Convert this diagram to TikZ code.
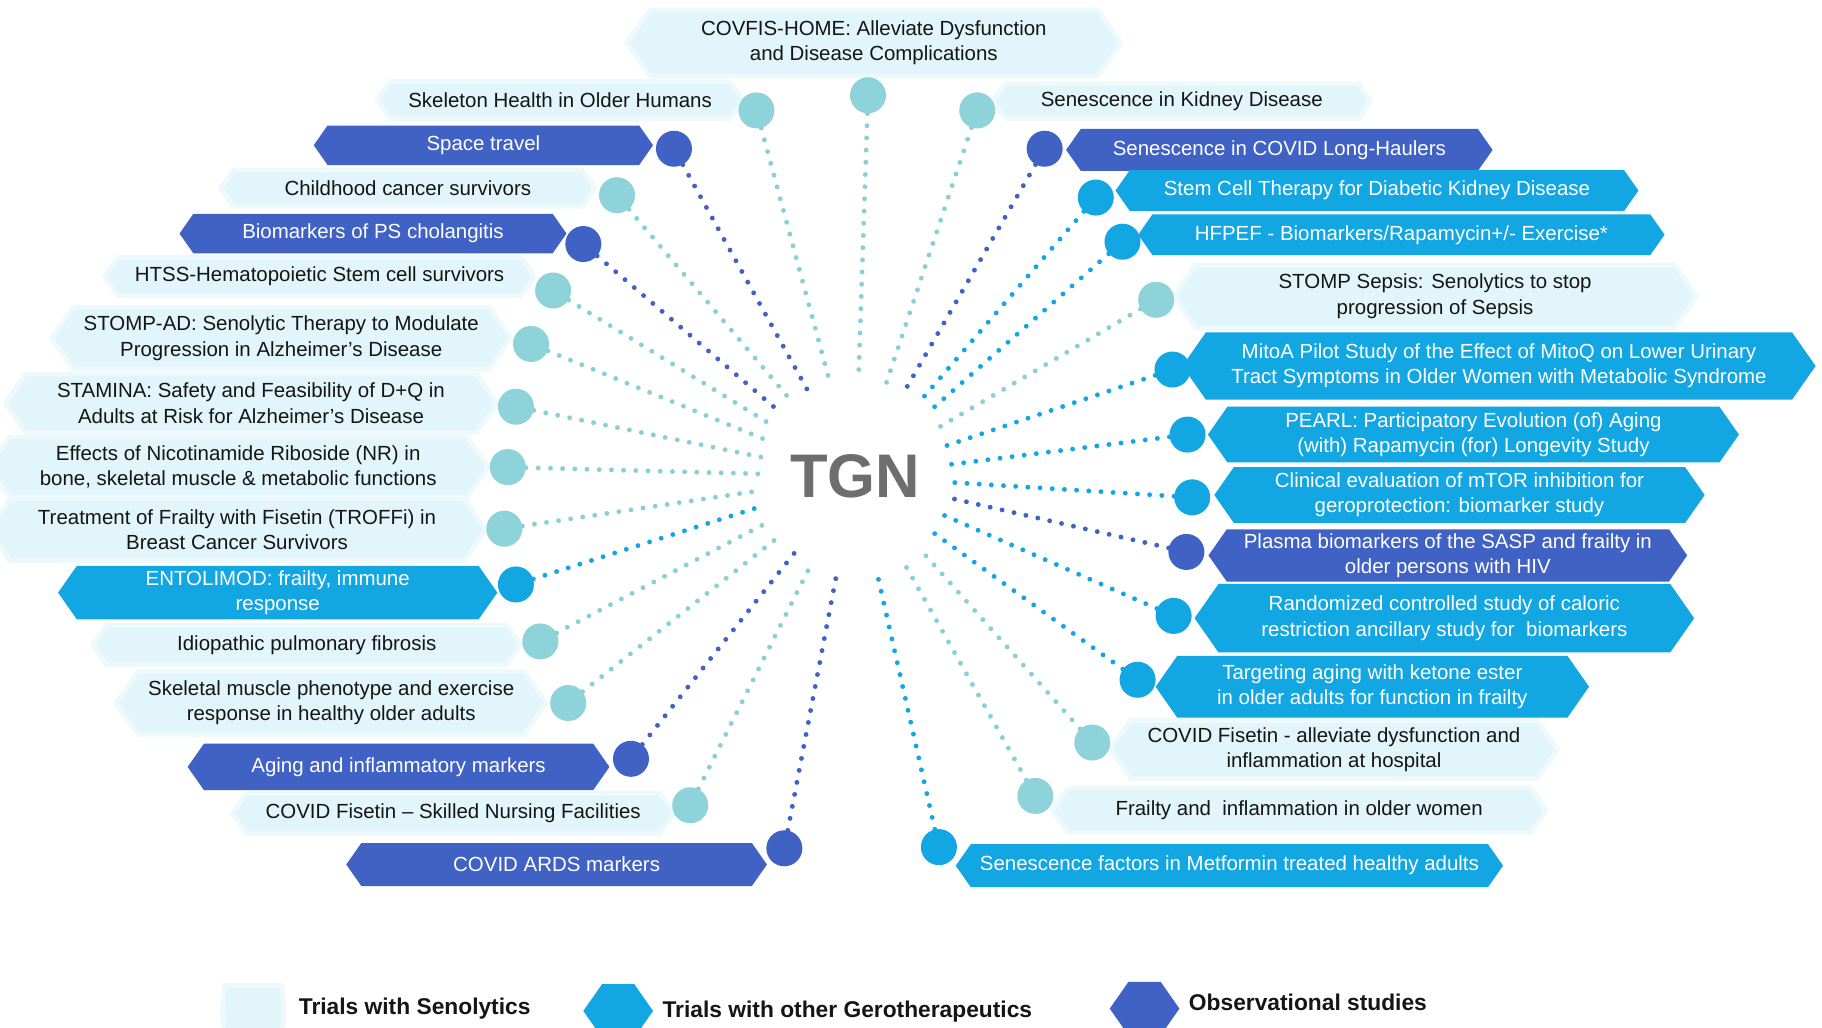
\documentclass[tikz,border=0pt]{standalone}
\usepackage{fontspec}
\setmainfont{Liberation Sans}
\usetikzlibrary{shapes.symbols}
\definecolor{cSenFill}{HTML}{E2F5FA}
\definecolor{cSenEdge}{HTML}{EDF9FC}
\definecolor{cSenDot}{HTML}{8ED2DA}
\definecolor{cSenLine}{HTML}{88D0D6}
\definecolor{cGer}{HTML}{12A6E3}
\definecolor{cObs}{HTML}{3F62C4}
\definecolor{cTgn}{HTML}{6E6E6E}
\definecolor{cTxt}{HTML}{151515}
\newcommand{\lblfont}{\fontsize{17.6}{21.8}\selectfont}
\newcommand{\legfont}{\fontsize{19.6}{22}\selectfont\bfseries}
\pgfdeclarelayer{back}
\pgfdeclarelayer{bg}
\pgfsetlayers{back,bg,main}
\newcommand{\tgnitem}[7]{%
  \node[#2box, minimum width=#4, minimum height=#5] (b#1) at (#3) {#7};
  \node[#2dot] (c#1) at (#6) {};
  \begin{pgfonlayer}{bg}\draw[#2ln] (c#1) -- (hub);\end{pgfonlayer}
}
\begin{document}
\begin{tikzpicture}[x=1pt,y=-1pt,
  hexbase/.style={signal, signal to=west and east, signal pointer angle=110, inner sep=0pt, align=center, font=\lblfont},
  senbox/.style={hexbase, fill=cSenFill, draw=cSenEdge, line width=4pt, text=cTxt},
  gerbox/.style={hexbase, fill=cGer, text=white},
  obsbox/.style={hexbase, fill=cObs, text=white},
  dotbase/.style={circle, minimum size=31pt, inner sep=0pt},
  sendot/.style={dotbase, fill=cSenDot},
  gerdot/.style={dotbase, fill=cGer},
  obsdot/.style={dotbase, fill=cObs},
  lnbase/.style={line width=4.2pt, line cap=round, dash pattern=on 0pt off 10.5pt},
  senln/.style={lnbase, draw=cSenLine},
  gerln/.style={lnbase, draw=cGer},
  obsln/.style={lnbase, draw=cObs},
]
\clip (0,0) rectangle (1568,884);
\begin{pgfonlayer}{back}\fill[white] (0,0) rectangle (1568,884);\end{pgfonlayer}
\node[circle, minimum size=164pt, inner sep=0pt, text=cTgn, font=\fontsize{53}{60}\selectfont\bfseries] (hub) at (736,410) {TGN};

% left side
\tgnitem{1}{sen}{482,86}{315}{32}{651,95}{Skeleton Health in Older Humans}
\tgnitem{2}{obs}{416,125}{292}{34}{580,128}{Space travel}
\tgnitem{3}{sen}{351,162}{322}{31}{531,168}{Childhood cancer survivors}
\tgnitem{4}{obs}{321,201}{333}{34}{502,210}{Biomarkers of PS cholangitis}
\tgnitem{5}{sen}{275,238}{370}{33}{476,250}{HTSS-Hematopoietic Stem cell survivors}
\tgnitem{6}{sen}{242,291}{395}{53}{457,296}{STOMP-AD: Senolytic Therapy to Modulate\\Progression in Alzheimer's Disease}
\tgnitem{7}{sen}{216,347}{423}{50}{444,350}{STAMINA: Safety and Feasibility of D+Q in\\Adults at Risk for Alzheimer's Disease}
\tgnitem{8}{sen}{205,402}{430}{52}{437,402}{Effects of Nicotinamide Riboside (NR) in\\bone, skeletal muscle \& metabolic functions}
\tgnitem{9}{sen}{204,456}{428}{53}{434,455}{Treatment of Frailty with Fisetin (TROFFi) in\\Breast Cancer Survivors}
\tgnitem{10}{ger}{239,510}{378}{46}{444,503}{ENTOLIMOD: frailty, immune\\response}
\tgnitem{11}{sen}{264,555}{368}{34}{465,552}{Idiopathic pulmonary fibrosis}
\tgnitem{12}{sen}{285,605}{370}{54}{489,605}{Skeletal muscle phenotype and exercise\\response in healthy older adults}
\tgnitem{13}{obs}{343,660}{363}{40}{543,653}{Aging and inflammatory markers}
\tgnitem{14}{sen}{390,700}{380}{35}{594,693}{COVID Fisetin -- Skilled Nursing Facilities}
\tgnitem{15}{obs}{479,744}{362}{37}{675,730}{COVID ARDS markers}
% top
\tgnitem{16}{sen}{752,37}{425}{57}{747,82}{COVFIS-HOME: Alleviate Dysfunction\\and Disease Complications}
% right side
\tgnitem{17}{sen}{1017,87}{325}{30}{841,95}{Senescence in Kidney Disease}
\tgnitem{18}{obs}{1101,129}{367}{36}{899,128}{Senescence in COVID Long-Haulers}
\tgnitem{19}{ger}{1185,164}{450}{35}{943,170}{Stem Cell Therapy for Diabetic Kidney Disease}
\tgnitem{20}{ger}{1206,202}{453}{35}{966,208}{HFPEF - Biomarkers/Rapamycin+/- Exercise*}
\tgnitem{21}{sen}{1235,255}{450}{54}{995,258}{STOMP Sepsis: Senolytics to stop\\progression of Sepsis}
\tgnitem{22}{ger}{1290,315}{545}{58}{1009,318}{MitoA Pilot Study of the Effect of MitoQ on Lower Urinary\\Tract Symptoms in Older Women with Metabolic Syndrome}
\tgnitem{23}{ger}{1268,374}{457}{48}{1022,374}{PEARL: Participatory Evolution (of) Aging\\(with) Rapamycin (for) Longevity Study}
\tgnitem{24}{ger}{1256,426}{422}{48}{1026,428}{Clinical evaluation of mTOR inhibition for\\geroprotection: biomarker study}
\tgnitem{25}{obs}{1246,478}{412}{45}{1021,475}{Plasma biomarkers of the SASP and frailty in\\older persons with HIV}
\tgnitem{26}{ger}{1243,532}{430}{59}{1010,530}{Randomized controlled study of caloric\\restriction ancillary study for\ \ biomarkers}
\tgnitem{27}{ger}{1181,591}{373}{53}{979,585}{Targeting aging with ketone ester\\in older adults for function in frailty}
\tgnitem{28}{sen}{1148,645}{385}{50}{940,639}{COVID Fisetin - alleviate dysfunction and\\inflammation at hospital}
\tgnitem{29}{sen}{1118,697}{425}{38}{891,685}{Frailty and\ \ inflammation in older women}
\tgnitem{30}{ger}{1058,745}{471}{37}{808,729}{Senescence factors in Metformin treated healthy adults}

% legend
\node[senbox, minimum width=53, minimum height=44, signal pointer angle=170] (l1) at (218,870) {};
\node[gerbox, minimum width=60, minimum height=46] (l2) at (532,870) {};
\node[obsbox, minimum width=60, minimum height=46] (l3) at (985,868) {};
\node[anchor=west, font=\legfont, text=cTxt, inner sep=0pt] (t1) at (257,868) {Trials with Senolytics};
\node[anchor=west, font=\legfont, text=cTxt, inner sep=0pt] (t2) at (570,871) {Trials with other Gerotherapeutics};
\node[anchor=west, font=\legfont, text=cTxt, inner sep=0pt] (t3) at (1023,863) {Observational studies};
\end{tikzpicture}
\end{document}
